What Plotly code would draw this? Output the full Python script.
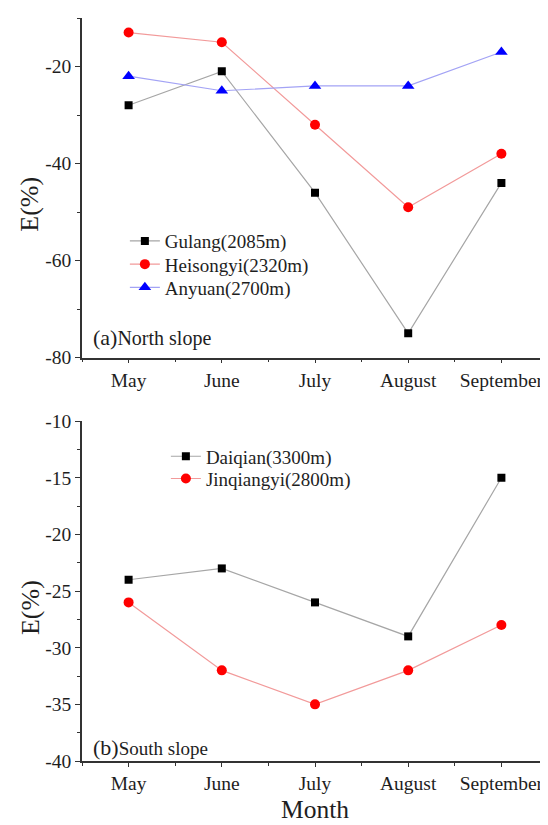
import plotly.graph_objects as go

months = ["May", "June", "July", "August", "September"]

north_names = ["Gulang(2085m)", "Heisongyi(2320m)", "Anyuan(2700m)"]
gulang = [-28, -21, -46, -75, -44]
heisongyi = [-13, -15, -32, -49, -38]
anyuan = [-22, -25, -24, -24, -17]

south_names = ["Daiqian(3300m)", "Jinqiangyi(2800m)"]
daiqian = [-24, -23, -26, -29, -15]
jinqiangyi = [-26, -32, -35, -32, -28]

north_ticks = [-80, -60, -40, -20]
south_ticks = [-40, -35, -30, -25, -20, -15, -10]

xpos = list(range(len(months)))

FONT = "Liberation Serif, Times New Roman, serif"
TXT = "#1e1e1e"
AX = "#333333"

styles = [
    dict(line_color="#a6a6a6", marker=dict(symbol="square", size=8, color="black")),
    dict(line_color="#f29a9a", marker=dict(symbol="circle", size=10, color="#ff0000")),
    dict(line_color="#a3a3f5", marker=dict(symbol="triangle-up", size=11, color="#0000ff")),
]

fig = go.Figure()

legend_ids = ["legend", "legend2", "legend3", "legend4", "legend5"]

for i, (name, vals, st) in enumerate(zip(north_names, [gulang, heisongyi, anyuan], styles)):
    fig.add_trace(go.Scatter(
        x=xpos, y=vals, name=name, mode="lines+markers",
        line=dict(color=st["line_color"], width=1.2),
        marker=st["marker"], xaxis="x", yaxis="y", legend=legend_ids[i],
    ))

for i, (name, vals, st) in enumerate(zip(south_names, [daiqian, jinqiangyi], styles[:2])):
    fig.add_trace(go.Scatter(
        x=xpos, y=vals, name=name, mode="lines+markers",
        line=dict(color=st["line_color"], width=1.2),
        marker=st["marker"], xaxis="x2", yaxis="y2", legend=legend_ids[3 + i],
    ))

axis_common = dict(
    showline=True, linecolor=AX, linewidth=1.6, mirror=False,
    ticks="outside", ticklen=5, tickwidth=1.4, tickcolor=AX,
    showgrid=False, zeroline=False,
    tickfont=dict(family=FONT, size=19.5, color=TXT),
)

xcommon = dict(
    axis_common, range=[-0.5, 4.5], tickmode="array", tickvals=xpos, ticktext=months,
    ticklen=4,
    minor=dict(tick0=0.5, dtick=1, ticks="outside", ticklen=3, tickwidth=1.2, tickcolor=AX),
)

def leg(x, y):
    return dict(x=x, y=y, xanchor="left", yanchor="top",
                font=dict(family=FONT, size=19, color=TXT),
                bgcolor="rgba(0,0,0,0)")

# page has an 8px body margin; figure is sized to fill the rest of the window
fig.update_layout(
    width=540, height=817,
    margin=dict(l=74, r=0, t=1, b=64),
    paper_bgcolor="white", plot_bgcolor="white",
    showlegend=True,
    xaxis=dict(xcommon, domain=[0, 1], anchor="y"),
    yaxis=dict(axis_common, domain=[0.543, 1.0], range=[-80, -10],
               tickmode="array", tickvals=north_ticks, ticktext=[str(v) for v in north_ticks],
               minor=dict(tick0=-10, dtick=10, ticks="outside", ticklen=3, tickwidth=1.2, tickcolor=AX),
               anchor="x"),
    xaxis2=dict(xcommon, domain=[0, 1], anchor="y2"),
    yaxis2=dict(axis_common, domain=[0, 0.4574], range=[-40, -10],
                tickmode="array", tickvals=south_ticks, ticktext=[str(v) for v in south_ticks],
                minor=dict(tick0=-10, dtick=2.5, ticks="outside", ticklen=3, tickwidth=1.2, tickcolor=AX),
                anchor="x2"),
    legend=leg(0.092, 0.7254),
    legend2=leg(0.092, 0.6941),
    legend3=leg(0.092, 0.6629),
    legend4=leg(0.180, 0.4355),
    legend5=leg(0.180, 0.4056),
    annotations=[
        dict(text="<span style='font-size:22px'>(a)</span>North slope", x=0.02, xref="x domain",
             y=0.058, yref="y domain", xanchor="left", yanchor="middle", showarrow=False,
             font=dict(family=FONT, size=20, color=TXT)),
        dict(text="<span style='font-size:22px'>(b)</span>South slope", x=0.02, xref="x2 domain",
             y=0.04, yref="y2 domain", xanchor="left", yanchor="middle", showarrow=False,
             font=dict(family=FONT, size=19, color=TXT)),
        dict(text="E(%)", textangle=-90, x=0, xref="paper", xshift=-52, y=0.45, yref="y domain",
             xanchor="center", yanchor="middle", showarrow=False,
             font=dict(family=FONT, size=26, color=TXT)),
        dict(text="E(%)", textangle=-90, x=0, xref="paper", xshift=-52, y=0.45, yref="y2 domain",
             xanchor="center", yanchor="middle", showarrow=False,
             font=dict(family=FONT, size=26, color=TXT)),
        dict(text="Month", x=0.5, xref="x2 domain", y=0, yref="y2 domain", yshift=-48,
             xanchor="center", yanchor="middle", showarrow=False,
             font=dict(family=FONT, size=25.5, color=TXT)),
    ],
)

fig.write_html("out.html")
